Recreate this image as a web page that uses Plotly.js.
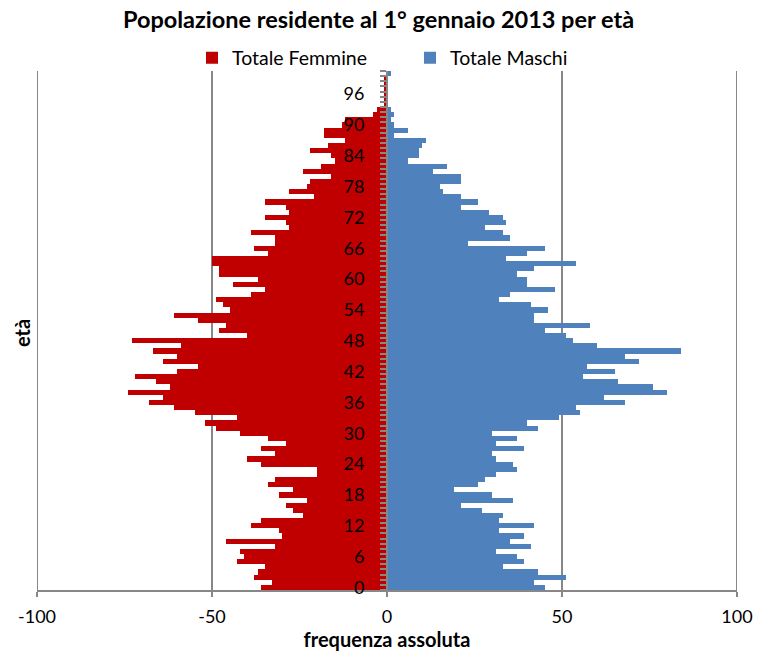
<!DOCTYPE html>
<html>
<head>
<meta charset="utf-8">
<script src="https://cdn.plot.ly/plotly-3.0.1.min.js"></script>
<style>html,body{margin:0;padding:0;background:#fff;}#chart{width:757px;height:652px;}</style>
</head>
<body>
<div id="chart"></div>
<script>
// Ages 0..100
const ages = Array.from({length: 101}, (_, i) => i);

// Totale Femmine (counts per age, 0..100)
const femmine = [
  36, 33, 38, 37, 35, 43, 41, 42, 32, 46,
  30, 31, 39, 36, 24, 27, 29, 23, 31, 27,
  34, 32, 20, 20, 36, 40, 32, 36, 29, 34,
  42, 49, 52, 43, 55, 61, 68, 64, 74, 62,
  66, 72, 60, 54, 64, 60, 67, 59, 73, 40,
  48, 46, 54, 61, 45, 47, 49, 39, 35, 44,
  37, 48, 48, 50, 50, 34, 38, 32, 32, 39,
  28, 29, 35, 28, 29, 35, 21, 28, 23, 22,
  16, 24, 19, 15, 16, 22, 17, 12, 18, 18,
  13, 12, 4, 3, 1, 1, 1, 1, 1, 1,
  0
];

// Totale Maschi (counts per age, 0..100)
const maschi = [
  45, 42, 51, 43, 33, 39, 37, 31, 41, 35,
  39, 32, 42, 32, 33, 27, 21, 36, 30, 19,
  26, 28, 31, 37, 36, 31, 30, 39, 31, 37,
  30, 43, 40, 49, 55, 54, 68, 62, 80, 76,
  66, 56, 65, 57, 72, 68, 84, 60, 53, 51,
  45, 58, 42, 42, 46, 41, 32, 35, 48, 40,
  40, 37, 42, 54, 34, 40, 45, 23, 35, 33,
  28, 34, 33, 29, 21, 26, 21, 16, 15, 21,
  21, 13, 17, 6, 9, 9, 10, 11, 2, 6,
  2, 1, 2, 1, 0, 0, 0, 0, 0, 0,
  1
];

const yTickVals = [0, 6, 12, 18, 24, 30, 36, 42, 48, 54, 60, 66, 72, 78, 84, 90, 96];
const xTickVals = [-100, -50, 0, 50, 100];
const xTickText = ['-100', '-50', '0', '50', '100'];

const FONT = 'Lato, "Open Sans", sans-serif';
const GRID = '#878787';

const traces = [
  {
    type: 'bar', orientation: 'h', name: 'Totale Femmine',
    y: ages, x: femmine.map(v => -v),
    marker: {color: '#C00000', line: {width: 0}},
    hoverinfo: 'skip'
  },
  {
    type: 'bar', orientation: 'h', name: 'Totale Maschi',
    y: ages, x: maschi,
    marker: {color: '#4F81BD', line: {width: 0}},
    hoverinfo: 'skip'
  }
];

// outer gridlines at the ends of the x range
const edgeLines = [-100, 100].map(v => ({
  type: 'line', xref: 'x', yref: 'paper', x0: v, x1: v, y0: 0, y1: 1,
  line: {color: GRID, width: 2}, layer: 'below'
}));

const layout = {
  width: 757, height: 652,
  margin: {l: 37, r: 20, t: 71, b: 62, pad: 0},
  paper_bgcolor: '#ffffff', plot_bgcolor: '#ffffff',
  font: {family: FONT, color: '#000000', size: 18},
  barmode: 'relative', bargap: 0,
  title: {
    text: '<b>Popolazione residente al 1° gennaio 2013 per età</b>',
    font: {family: FONT, size: 23.5, color: '#000000'},
    x: 0.5, xref: 'container', xanchor: 'center',
    y: 1 - 20 / 652, yref: 'container', yanchor: 'middle'
  },
  showlegend: true,
  legend: {
    orientation: 'h', x: (192 - 37) / 700, xanchor: 'left',
    y: 1 + (71 - 58) / 519, yanchor: 'middle',
    font: {family: FONT, size: 19.5, color: '#000000'},
    itemwidth: 30, entrywidth: 173, traceorder: 'normal',
    bgcolor: 'rgba(0,0,0,0)', borderwidth: 0
  },
  shapes: edgeLines,
  xaxis: {
    range: [-100, 100], tickmode: 'array', tickvals: xTickVals, ticktext: xTickText,
    showgrid: true, gridcolor: GRID, gridwidth: 2,
    zeroline: false, showline: true, linecolor: GRID, linewidth: 2,
    ticks: 'outside', ticklen: 5, tickcolor: GRID, tickwidth: 2,
    ticklabelstandoff: 4,
    tickfont: {family: FONT, size: 18, color: '#000000'},
    title: {text: '<b>frequenza assoluta</b>', font: {family: FONT, size: 20, color: '#000000'}, standoff: 4},
    fixedrange: true
  },
  yaxis: {
    range: [-0.5, 100.5], tickmode: 'array', tickvals: yTickVals,
    anchor: 'free', position: 0.5,
    showgrid: false, zeroline: false,
    showline: true, linecolor: GRID, linewidth: 2,
    ticks: '', ticklabelstandoff: 18,
    minor: {tick0: -0.5, dtick: 1, ticks: 'outside', ticklen: 6, tickcolor: GRID, tickwidth: 2, showgrid: false},
    tickfont: {family: FONT, size: 18, color: '#000000'},
    fixedrange: true
  },
  annotations: [{
    text: '<b>età</b>', xref: 'paper', yref: 'paper',
    x: (22 - 37) / 700, y: (590 - 333) / 519, xanchor: 'center', yanchor: 'middle',
    textangle: -90, showarrow: false,
    font: {family: FONT, size: 20, color: '#000000'}
  }]
};

Plotly.newPlot('chart', traces, layout, {displayModeBar: false, staticPlot: true});
</script>
</body>
</html>
